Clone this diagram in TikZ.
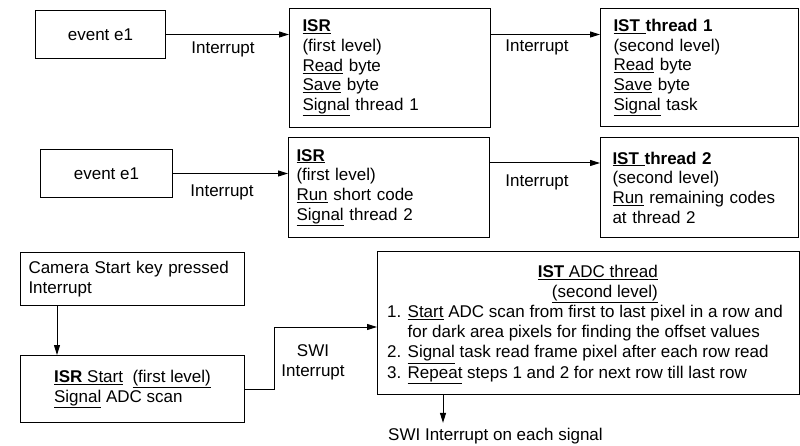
\documentclass[tikz,border=0pt]{standalone}
\usepackage{fontspec}
\setmainfont{Liberation Sans}
\usetikzlibrary{arrows.meta,calc}
\begin{document}
\begin{tikzpicture}[x=1pt,y=-1pt,
  every node/.style={font=\fontsize{17}{19.7}\selectfont},
  box/.style={draw, line width=1pt, anchor=north west, inner ysep=0pt},
  txtbox/.style={box, align=left},
  arr/.style={line width=1pt, -{Triangle[length=10pt,width=6pt]}},
  conn/.style={line width=1pt},
  lbl/.style={inner sep=0pt, align=center}]
\useasboundingbox (0,0) rectangle (800,446);

% row 1
\node[box, minimum width=130pt, minimum height=48pt, align=center] (e1a) at (35,10) {event e1};
\node[txtbox, minimum height=119pt, inner xsep=13pt, text width=175pt] (isr1) at (289,8)
  {\underline{\textbf{ISR}}\\(first level)\\\underline{Read} byte\\\underline{Save} byte\\\underline{Signal} thread 1};
\node[txtbox, minimum height=118pt, inner xsep=13pt, text width=172pt] (ist1) at (600,8)
  {\underline{\textbf{IST\ }}\textbf{thread 1}\\(second level)\\\underline{Read} byte\\\underline{Save} byte\\\underline{Signal} task};
\draw[arr] (e1a.east) -- (e1a.east -| isr1.west);
\draw[arr] (isr1.east |- e1a.east) -- (ist1.west |- e1a.east);
\node[lbl] (i1) at (223,49) {Interrupt};
\node[lbl] (i2) at (537,47) {Interrupt};

% row 2
\node[box, minimum width=132pt, minimum height=48pt, align=center] (e1b) at (40,149) {event e1};
\node[txtbox, minimum height=100pt, inner xsep=8pt, text width=185pt] (isr2) at (288,137)
  {\underline{\textbf{ISR}}\\(first level)\\\underline{Run} short code\\\underline{Signal} thread 2};
\node[txtbox, minimum height=100pt, inner xsep=12pt, text width=174pt] (ist2) at (600,137)
  {\underline{\textbf{IST\ }}\textbf{thread 2}\\(second level)\\\underline{Run} remaining codes\\at thread 2};
\draw[arr] (e1b.east) -- (e1b.east -| isr2.west);
\coordinate (r2) at ($(isr2.north east)+(0,26)$);
\draw[arr] (r2) -- (r2 -| ist2.west);
\node[lbl] (i3) at (222,192) {Interrupt};
\node[lbl] (i4) at (537,182) {Interrupt};

% row 3
\node[txtbox, minimum height=53pt, inner xsep=8pt, text width=208pt] (cam) at (20,252)
  {Camera Start key pressed\\Interrupt};
\node[box, minimum width=224pt, minimum height=67pt, align=left] (isrs) at (20,355)
  {\underline{\textbf{ISR} Start}\ \ \underline{(first level)}\\\underline{Signal} ADC scan};
\draw[arr] ($(cam.south west)+(37,0)$) -- ($(isrs.north west)+(37,0)$);

\node[box, minimum width=422pt, minimum height=143pt] (adc) at (377,251) {};
\node[inner sep=0pt, anchor=north east, align=right] (adct) at (658,265)
  {\underline{\textbf{IST} ADC thread}\\\underline{(second level)}};
\node[inner sep=0pt, anchor=north west, align=left, font=\fontsize{17}{20.2}\selectfont] (adcl) at (387,305)
  {1. \underline{Start} ADC scan from first to last pixel in a row and\\
   \hphantom{1. }for dark area pixels for finding the offset values\\
   2. \underline{Signal} task read frame pixel after each row read\\
   3. \underline{Repeat} steps 1 and 2 for next row till last row};

\coordinate (swin) at ($(adc.north west)+(0,76)$);
\draw[arr] (isrs.east) -- ++(29,0) |- (swin);
\node[lbl] (swil) at (313,362) {SWI\\Interrupt};

\node[inner sep=0pt, anchor=west] (swib) at (388,436) {SWI Interrupt on each signal};
\draw[arr] ($(adc.south west)+(66,0)$) -- ($(swib.north west)+(55,-5)$);
\end{tikzpicture}
\end{document}
